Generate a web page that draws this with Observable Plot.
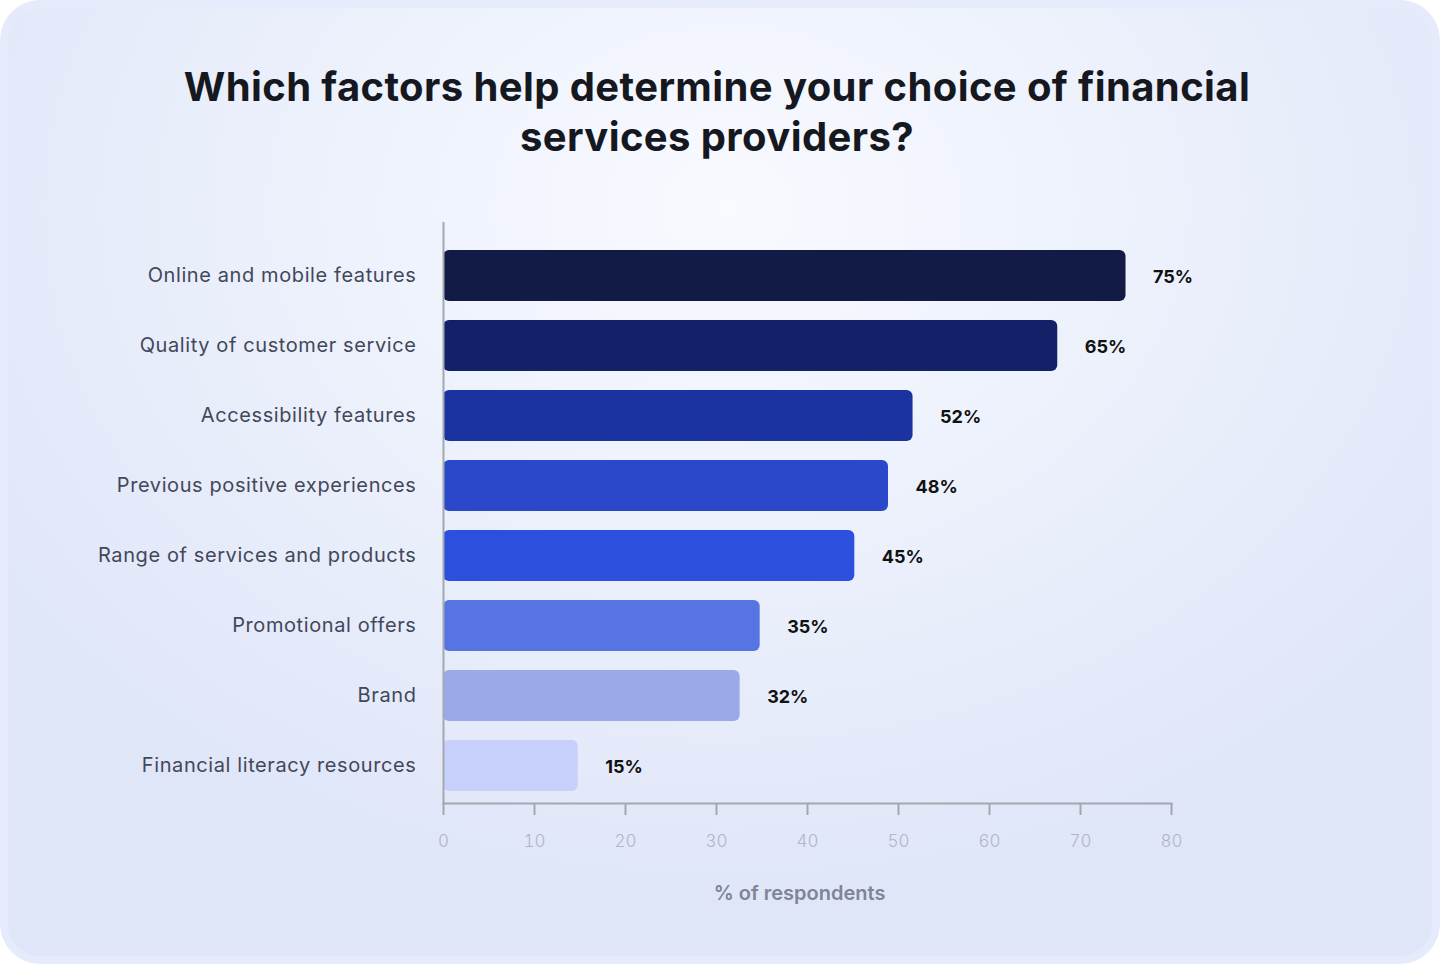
<!DOCTYPE html>
<html>
<head>
<meta charset="utf-8">
<script src="https://cdn.jsdelivr.net/npm/d3@7"></script>
<script src="https://cdn.jsdelivr.net/npm/@observablehq/plot@0.6"></script>
<style>
  html, body { margin: 0; padding: 0; background: #ffffff; }
  body { width: 1440px; height: 964px; overflow: hidden; font-family: Inter, "Noto Sans", sans-serif; }
  #card {
    position: absolute; left: 0; top: 0; width: 1440px; height: 964px;
    border-radius: 40px; background: #e5ebfb; box-sizing: border-box;
  }
  #inner {
    position: absolute; left: 8px; top: 8px; right: 8px; bottom: 8px;
    border-radius: 32px;
    background: radial-gradient(ellipse 900px 700px at 720px 200px, #f8faff 0%, #eef2fc 40%, #dfe6f8 100%);
  }
  #title {
    position: absolute; left: 0; width: 1434px; top: 62px;
    text-align: center; font-family: Inter, sans-serif; font-weight: 700;
    font-size: 40px; line-height: 50px; color: #16181f; letter-spacing: 0.4px;
  }
  #chart { position: absolute; left: 0; top: 0; }
  #chart svg g[aria-label="y-axis tick label"] text { letter-spacing: 0.6px; }
</style>
</head>
<body>
<div id="card"><div id="inner"></div></div>
<div id="title">Which factors help determine your choice of financial<br>services providers?</div>
<div id="chart"></div>
<script>
const categories = [
  "Online and mobile features",
  "Quality of customer service",
  "Accessibility features",
  "Previous positive experiences",
  "Range of services and products",
  "Promotional offers",
  "Brand",
  "Financial literacy resources"
];
// bar lengths as drawn in the picture
const barValues = [75, 67.5, 51.6, 48.9, 45.2, 34.8, 32.6, 14.8];
// value labels as printed
const labelValues = [75, 65, 52, 48, 45, 35, 32, 15];
const xTicks = [0, 10, 20, 30, 40, 50, 60, 70, 80];
const palette = ["#121a46", "#132168", "#1b33a0", "#2a48c9", "#2c50dd", "#5675e3", "#99a9ea", "#c6d0fa"];

const data = categories.map((c, i) => ({category: c, value: barValues[i], label: labelValues[i] + "%"}));

const chart = Plot.plot({
  width: 1440,
  height: 964,
  marginLeft: 443,
  marginRight: 269,
  marginTop: 222,
  marginBottom: 161,
  style: {background: "transparent", fontFamily: "Inter, sans-serif"},
  x: {domain: [0, 80], ticks: xTicks},
  y: {domain: categories, range: [231, 810], paddingInner: 0.27, paddingOuter: 0.27},
  color: {domain: categories, range: palette},
  marks: [
    Plot.barX(data, {y: "category", x: "value", fill: "category", rx: 6}),
    Plot.text(data, {y: "category", x: "value", text: "label", textAnchor: "start", dx: 27, dy: 1,
      fontSize: 18, fontWeight: 700, fill: "#111"}),
    Plot.ruleX([0], {stroke: "#a3a7b0", strokeWidth: 2}),
    Plot.frame({anchor: "bottom", stroke: "#a3a7b0", strokeWidth: 2}),
    Plot.axisX({ticks: xTicks, tickSize: 12, tickPadding: 19, stroke: "#a3a7b0", strokeWidth: 2,
      fontSize: 17, fontWeight: 300, color: "#b0b6c4", label: null}),
    Plot.axisY({tickSize: 0, tickPadding: 27, fontSize: 20, color: "#43475a", label: null}),
    Plot.text(["% of respondents"], {frameAnchor: "bottom", dy: 96, dx: -8, fontSize: 20, fontWeight: 600, fill: "#7e8596"})
  ]
});
document.getElementById("chart").appendChild(chart);
</script>
</body>
</html>
